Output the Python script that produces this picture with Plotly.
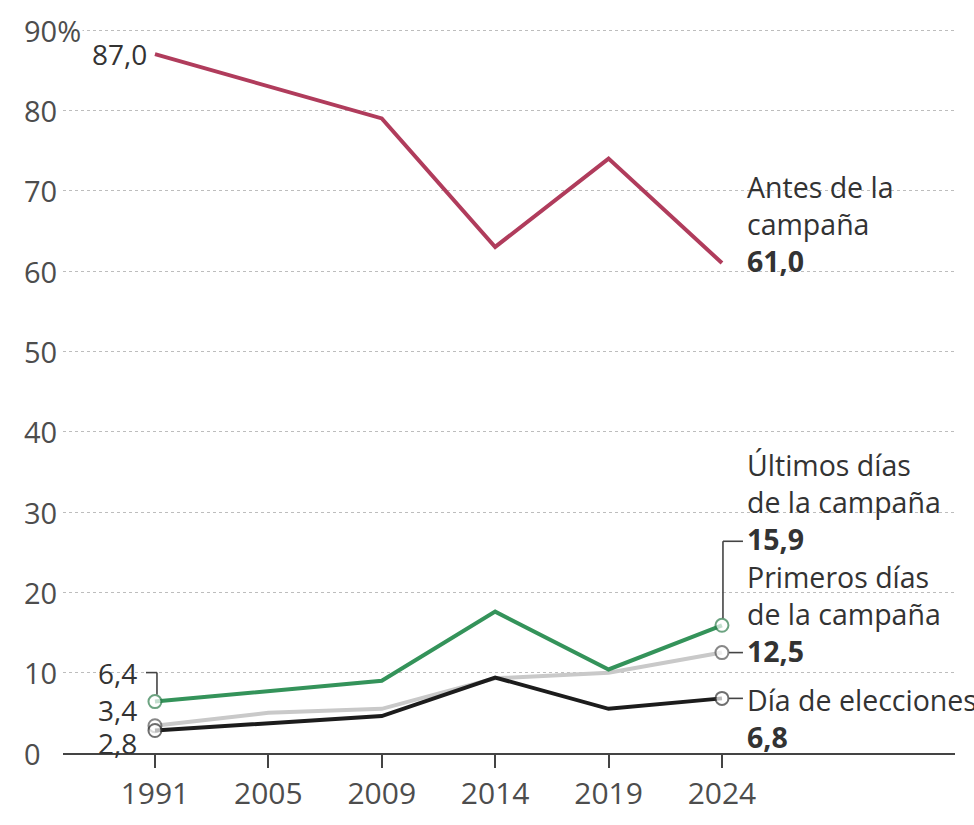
import plotly.graph_objects as go

# ---- data ----
years = ["1991", "2005", "2009", "2014", "2019", "2024"]
antes = [87.0, 83.0, 79.0, 63.0, 74.0, 61.0]          # Antes de la campaña
ultimos = [6.4, 7.7, 9.0, 17.6, 10.4, 15.9]           # Últimos días de la campaña
primeros = [3.4, 5.0, 5.5, 9.3, 10.0, 12.5]           # Primeros días de la campaña
dia = [2.8, 3.7, 4.6, 9.4, 5.5, 6.8]                  # Día de elecciones
ytick_vals = [0, 10, 20, 30, 40, 50, 60, 70, 80, 90]
ytick_text = ["0", "10", "20", "30", "40", "50", "60", "70", "80", "90%"]

FONT = "Open Sans"
RED = "#b03c5c"
GREEN = "#34935a"
GRAY = "#c9c9c9"
BLACK = "#1c1c1c"
TXT = "#333333"
TICK = "#4d4d4d"
CONN = "#444444"

xs = list(range(len(years)))
last = len(years) - 1

fig = go.Figure()

def add_line(vals, color, markers, mcolor=None):
    sizes = [13 if (i == 0 or i == last) and markers else 0 for i in range(len(vals))]
    fig.add_trace(go.Scatter(
        x=xs, y=vals, mode="lines+markers" if markers else "lines",
        line=dict(color=color, width=4),
        marker=dict(size=sizes, color="white", symbol="circle",
                    line=dict(color=mcolor or color, width=2)),
        hoverinfo="skip", showlegend=False, cliponaxis=False))

add_line(antes, RED, False)
add_line(primeros, GRAY, True, "#555555")
add_line(dia, BLACK, True, "#333333")
add_line(ultimos, GREEN, True, "#2e7d4c")

ann = []
# y tick labels (left aligned)
for v, t in zip(ytick_vals, ytick_text):
    ann.append(dict(xref="paper", yref="y", x=-0.046, y=v, text=t, xanchor="left",
                    yanchor="middle", showarrow=False,
                    font=dict(family=FONT, size=29, color=TICK),
                    bgcolor="white" if t.endswith("%") else None))

# left-end value labels
ann.append(dict(x=0, y=antes[0], text=f"{antes[0]:.1f}".replace(".", ","), xanchor="right",
                yanchor="middle", xshift=-6, showarrow=False,
                font=dict(family=FONT, size=28, color=TXT)))
for vals, ys in [(ultimos, 29), (primeros, 16), (dia, -12)]:
    ann.append(dict(x=0, y=vals[0], text=f"{vals[0]:.1f}".replace(".", ","), xanchor="right",
                    yanchor="middle", xshift=-16, yshift=ys, showarrow=False,
                    font=dict(family=FONT, size=28, color=TXT)))

def fmt(v):
    return f"<b>{v:.1f}</b>".replace(".", ",")

# right-end labels
ann.append(dict(x=last, y=antes[-1], text="Antes de la<br>campaña<br>" + fmt(antes[-1]),
                xanchor="left", yanchor="bottom", align="left", xshift=23, yshift=-19,
                showarrow=False, font=dict(family=FONT, size=28.5, color=TXT)))
ann.append(dict(x=last, y=ultimos[-1], text="Últimos días<br>de la campaña<br>" + fmt(ultimos[-1]),
                xanchor="left", yanchor="bottom", align="left", xshift=23, yshift=65,
                showarrow=False, font=dict(family=FONT, size=28.5, color=TXT)))
ann.append(dict(x=last, y=primeros[-1], text="Primeros días<br>de la campaña<br>" + fmt(primeros[-1]),
                xanchor="left", yanchor="bottom", align="left", xshift=23, yshift=-19,
                showarrow=False, font=dict(family=FONT, size=28.5, color=TXT)))
ann.append(dict(x=last, y=dia[-1], text="Día de elecciones<br>" + fmt(dia[-1]),
                xanchor="left", yanchor="top", align="left", xshift=23, yshift=19,
                showarrow=False, font=dict(family=FONT, size=28.5, color=TXT)))

shapes = []
def seg(xa, ya, x0, y0, x1, y1):
    shapes.append(dict(type="line", xref="x", yref="y", xsizemode="pixel", ysizemode="pixel",
                       xanchor=xa, yanchor=ya, x0=x0, y0=y0, x1=x1, y1=y1,
                       line=dict(color=CONN, width=1.6)))

# left connector for 6,4
seg(0, ultimos[0], -9, 29, 2, 29)
seg(0, ultimos[0], 2, 29, 2, 7)
# right connectors
seg(last, ultimos[-1], 1, 7, 1, 84)
seg(last, ultimos[-1], 1, 84, 21, 84)
seg(last, primeros[-1], 7, 0, 21, 0)
seg(last, dia[-1], 7, 0, 21, 0)

fig.update_layout(
    width=974, height=825,
    margin=dict(l=63, r=19, t=14, b=61),
    paper_bgcolor="white", plot_bgcolor="white",
    showlegend=False,
    annotations=ann, shapes=shapes,
    xaxis=dict(range=[-0.811, 7.055], tickmode="array", tickvals=xs, ticktext=years,
               showgrid=False, zeroline=False, showline=True, linecolor="#444444", linewidth=2,
               ticks="outside", ticklen=13, tickwidth=2, tickcolor="#444444",
               tickfont=dict(family=FONT, size=30, color=TICK), fixedrange=True),
    yaxis=dict(range=[0, 92], tickmode="array", tickvals=ytick_vals[1:],
               showticklabels=False, showgrid=True, gridcolor="#bdbdbd", griddash="dot",
               gridwidth=1.3, zeroline=False, showline=False, fixedrange=True),
)

fig.write_html("out.html", config={"displayModeBar": False},
               post_script="document.body.style.margin='0px';document.body.style.overflow='hidden';")
